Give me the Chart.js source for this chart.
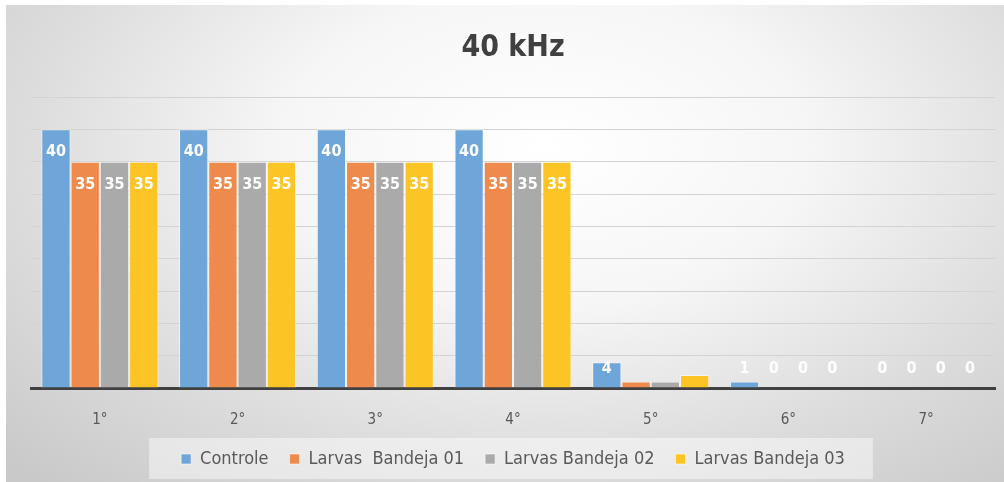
<!DOCTYPE html>
<html>
<head>
<meta charset="utf-8">
<script src="https://cdn.jsdelivr.net/npm/chart.js@4"></script>
<style>
  html, body { margin: 0; padding: 0; background: #fff; }
  #wrap {
    position: absolute; left: 6px; top: 5px; width: 998px; height: 477px;
    background: radial-gradient(ellipse 75% 95% at 54% 30%, #ffffff 0%, #f6f6f6 35%, #dcdcdc 70%, #c9c9c9 100%);
  }
</style>
</head>
<body>
<div id="wrap"><canvas id="chart" width="998" height="477"></canvas></div>
<script>
const categories = ['1°', '2°', '3°', '4°', '5°', '6°', '7°'];
const controle = [40, 40, 40, 40, 4, 1, 0];
const bandeja01 = [35, 35, 35, 35, 1, 0, 0];
const bandeja02 = [35, 35, 35, 35, 1, 0, 0];
const bandeja03 = [35, 35, 35, 35, 2, 0, 0];
const yTicks = [0, 5, 10, 15, 20, 25, 30, 35, 40, 45];
// labels that the original leaves out: [category index, series index]
const hiddenLabels = [[4, 1], [4, 2], [4, 3]];

const font = "'Liberation Sans Narrow', 'DejaVu Sans Condensed', 'Roboto', sans-serif";

// white value labels just inside the bar tops
const valueLabels = {
    id: 'valueLabels',
    afterDatasetsDraw(chart) {
        const ctx = chart.ctx;
        const base = chart.scales.y.getPixelForValue(0);
        ctx.save();
        ctx.fillStyle = '#ffffff';
        ctx.font = 'bold 16px ' + font;
        ctx.textAlign = 'center';
        ctx.textBaseline = 'middle';
        chart.data.datasets.forEach((ds, di) => {
            chart.getDatasetMeta(di).data.forEach((bar, i) => {
                if (hiddenLabels.some(h => h[0] === i && h[1] === di)) return;
                const y = Math.min(bar.y + 23, base - 19);
                ctx.fillText(String(ds.data[i]), bar.x, y);
            });
        });
        ctx.restore();
    }
};

// light box behind the legend
const legendBox = {
    id: 'legendBox',
    beforeDraw(chart) {
        const boxes = chart.legend.legendHitBoxes;
        if (!boxes || !boxes.length) return;
        const left = Math.min(...boxes.map(b => b.left)) - 32;
        const right = Math.max(...boxes.map(b => b.left + b.width)) + 28;
        const top = boxes[0].top + boxes[0].height / 2 - 21;
        const ctx = chart.ctx;
        ctx.save();
        ctx.fillStyle = 'rgba(255,255,255,0.45)';
        ctx.fillRect(left, top, right - left, 41);
        ctx.restore();
    }
};

new Chart(document.getElementById('chart'), {
    type: 'bar',
    data: {
        labels: categories,
        datasets: [
            { label: 'Controle', data: controle, backgroundColor: '#6fa6da' },
            { label: 'Larvas  Bandeja 01', data: bandeja01, backgroundColor: '#ee8a4c' },
            { label: 'Larvas Bandeja 02', data: bandeja02, backgroundColor: '#aaaaaa' },
            { label: 'Larvas Bandeja 03', data: bandeja03, backgroundColor: '#fcc425' }
        ].map(d => Object.assign(d, {
            borderColor: 'rgba(255,255,255,0.55)',
            borderWidth: 1,
            categoryPercentage: 0.85,
            barPercentage: 1
        }))
    },
    options: {
        responsive: false,
        animation: false,
        layout: { padding: { left: 25, right: 9, top: 0, bottom: 4 } },
        plugins: {
            title: {
                display: true,
                text: '40 kHz',
                color: '#404040',
                font: { family: font, size: 30, weight: 'bold' },
                padding: { top: 25, bottom: 31 }
            },
            legend: {
                position: 'bottom',
                labels: {
                    color: '#595959',
                    font: { family: font, size: 18 },
                    boxWidth: 10,
                    boxHeight: 10,
                    padding: 21
                }
            },
            tooltip: { enabled: false }
        },
        scales: {
            x: {
                grid: { display: false, drawTicks: false },
                border: { display: true, color: '#404040', width: 3 },
                ticks: { color: '#595959', font: { family: font, size: 15 }, padding: 23 },
                afterFit(scale) { scale.height = 41; }
            },
            y: {
                min: 0,
                max: 45,
                afterBuildTicks(axis) { axis.ticks = yTicks.map(v => ({ value: v })); },
                ticks: { display: false },
                border: { display: false },
                grid: {
                    drawTicks: false,
                    color: c => c.tick && c.tick.value === 0 ? 'rgba(0,0,0,0)' : '#d3d3d3'
                }
            }
        }
    },
    plugins: [valueLabels, legendBox]
});
</script>
</body>
</html>
